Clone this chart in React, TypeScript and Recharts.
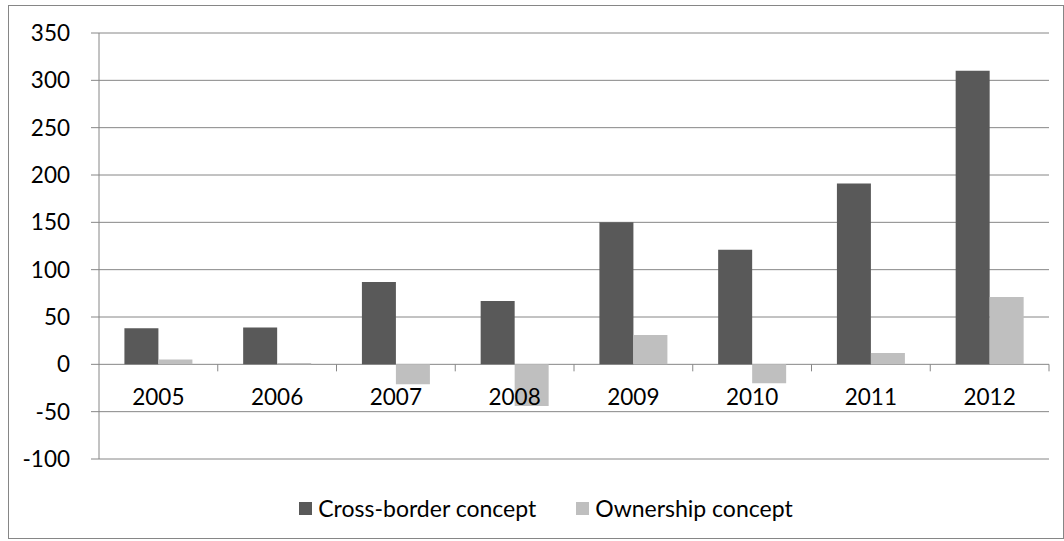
import React from "react";
import { Bar, BarChart, CartesianGrid, Legend, XAxis, YAxis } from "recharts";

const years = ["2005", "2006", "2007", "2008", "2009", "2010", "2011", "2012"];
const crossBorder = [38, 39, 87, 67, 150, 121, 191, 310];
const ownership = [5, 1.5, -21, -44, 31, -20, 12, 71];
const yTicks = [-100, -50, 0, 50, 100, 150, 200, 250, 300, 350];

const data = years.map((year, i) => ({
  year,
  cross: crossBorder[i],
  owner: ownership[i],
}));

const GRID = "#868686";
const DARK = "#595959";
const LIGHT = "#bfbfbf";

// plot box sizes, used to move the year labels up onto the zero line
const PLOT_W = 950;
const PLOT_H = 426;
const BAND = PLOT_W / years.length;
const ZERO_UP = (PLOT_H * 100) / 450;

function YearTick(props: any) {
  const { x, y, payload } = props;
  const zy = y - ZERO_UP;
  return (
    <g>
      <line x1={x + BAND / 2} x2={x + BAND / 2} y1={zy} y2={zy + 7} stroke={GRID} strokeWidth={1} />
      <text x={x} y={zy + 41} textAnchor="middle" fill="#000" fontSize={22.5}>
        {payload.value}
      </text>
    </g>
  );
}

function LegendBox() {
  const item = (color: string, label: string) => (
    <div style={{ display: "flex", alignItems: "center", marginRight: 40 }}>
      <span style={{ width: 13, height: 13, background: color, marginRight: 6, display: "inline-block" }} />
      <span style={{ fontSize: 23, color: "#000" }}>{label}</span>
    </div>
  );
  return (
    <div style={{ display: "flex", justifyContent: "center", alignItems: "center", height: 30, paddingLeft: 60 }}>
      {item(DARK, "Cross-border concept")}
      {item(LIGHT, "Ownership concept")}
    </div>
  );
}

export default function App() {
  return (
    <div
      style={{
        position: "absolute",
        left: 8,
        top: 5,
        width: 1056,
        height: 534,
        boxSizing: "border-box",
        border: `1px solid ${GRID}`,
        background: "#fff",
        fontFamily: "Lato, 'Open Sans', sans-serif",
      }}
    >
      <BarChart
        width={1054}
        height={532}
        data={data}
        margin={{ top: 27, right: 14, left: 0, bottom: 48 }}
        barCategoryGap="21.4%"
        barGap={0}
      >
        <CartesianGrid vertical={false} stroke={GRID} strokeWidth={1} />
        <XAxis
          dataKey="year"
          height={1}
          axisLine={false}
          tickLine={false}
          tickSize={0}
          tickMargin={0}
          tick={<YearTick />}
          interval={0}
        />
        <YAxis
          width={90}
          domain={[-100, 350]}
          ticks={yTicks}
          interval={0}
          axisLine={{ stroke: GRID }}
          tickLine={{ stroke: GRID }}
          tickSize={8}
          tickMargin={21}
          tick={{ fill: "#000", fontSize: 22.5 }}
        />
        <Legend
          verticalAlign="bottom"
          content={<LegendBox />}
          wrapperStyle={{ left: 0, width: 1054, bottom: 15 }}
        />
        <Bar dataKey="cross" name="Cross-border concept" fill={DARK} isAnimationActive={false} />
        <Bar dataKey="owner" name="Ownership concept" fill={LIGHT} isAnimationActive={false} />
      </BarChart>
    </div>
  );
}
